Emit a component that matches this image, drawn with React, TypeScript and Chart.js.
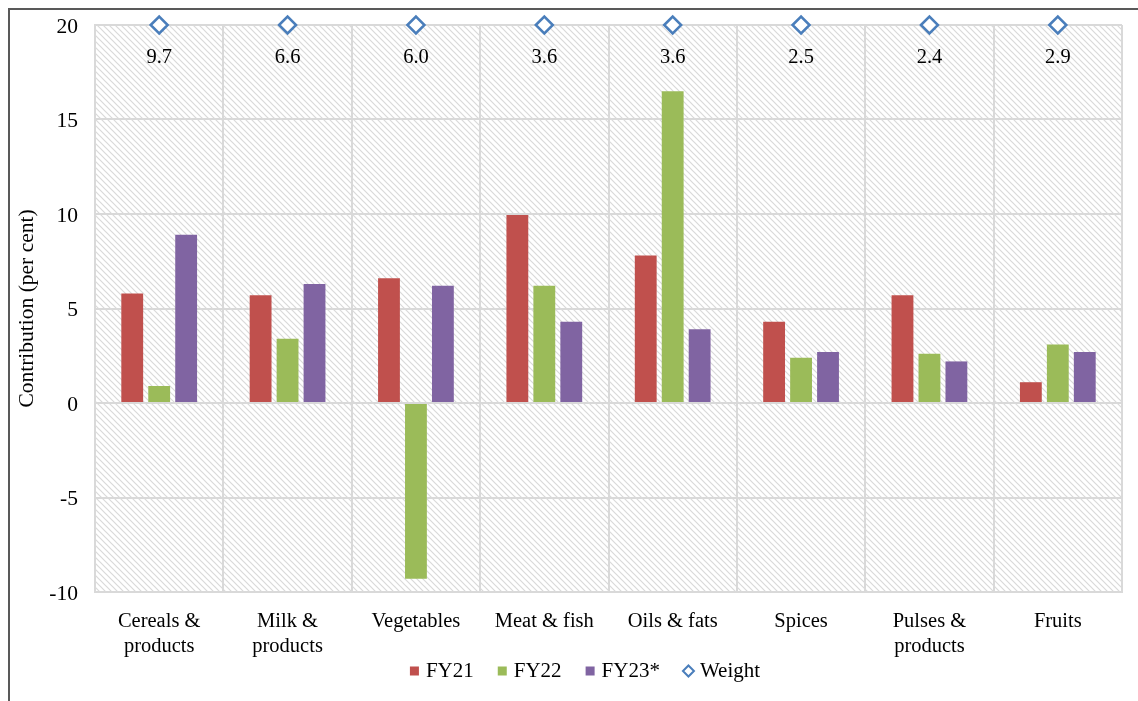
import React, { useEffect, useRef } from "react";
import { Chart, registerables } from "chart.js";

Chart.register(...registerables);

const categories: (string | string[])[] = [
  ["Cereals &", "products"],
  ["Milk &", "products"],
  "Vegetables",
  "Meat & fish",
  "Oils & fats",
  "Spices",
  ["Pulses &", "products"],
  "Fruits",
];
const fy21 = [5.8, 5.7, 6.6, 9.95, 7.8, 4.3, 5.7, 1.1];
const fy22 = [0.9, 3.4, -9.3, 6.2, 16.5, 2.4, 2.6, 3.1];
const fy23 = [8.9, 6.3, 6.2, 4.3, 3.9, 2.7, 2.2, 2.7];
const weights = [9.7, 6.6, 6.0, 3.6, 3.6, 2.5, 2.4, 2.9];
const weightMarkerLevel = 20;
const yTicks = { min: -10, max: 20, step: 5 };

const FONT = "'Liberation Serif', 'Times New Roman', serif";
const FS = 20.5;
const WEIGHT_COLOR = "#4a7ebb";

function makePattern(ctx: CanvasRenderingContext2D) {
  const p = document.createElement("canvas");
  const s = 6;
  p.width = s;
  p.height = s;
  const c = p.getContext("2d")!;
  c.fillStyle = "#ffffff";
  c.fillRect(0, 0, s, s);
  c.strokeStyle = "#d9d9d9";
  c.lineWidth = 1.2;
  c.beginPath();
  c.moveTo(-1, -1);
  c.lineTo(s + 1, s + 1);
  c.moveTo(-1, s - 1);
  c.lineTo(1, s + 1);
  c.moveTo(s - 1, -1);
  c.lineTo(s + 1, 1);
  c.stroke();
  return ctx.createPattern(p, "repeat");
}

const hatchPlugin = {
  id: "hatchBg",
  beforeDraw(chart: any) {
    const { ctx, chartArea } = chart;
    const pat = makePattern(ctx);
    ctx.save();
    ctx.fillStyle = pat || "#fff";
    ctx.fillRect(chartArea.left, chartArea.top, chartArea.right - chartArea.left, chartArea.bottom - chartArea.top);
    ctx.restore();
  },
};

const weightLabelPlugin = {
  id: "weightLabels",
  afterDatasetsDraw(chart: any) {
    const idx = chart.data.datasets.findIndex((d: any) => d.label === "Weight");
    if (idx < 0) return;
    const meta = chart.getDatasetMeta(idx);
    const { ctx } = chart;
    ctx.save();
    ctx.font = `${FS}px ${FONT}`;
    ctx.fillStyle = "#000";
    ctx.textAlign = "center";
    ctx.textBaseline = "middle";
    meta.data.forEach((pt: any, i: number) => {
      ctx.fillText(weights[i].toFixed(1), pt.x, pt.y + 33);
    });
    ctx.restore();
  },
};

// Legend drawn in the reserved space below the x axis
const legendPlugin = {
  id: "customLegend",
  afterDraw(chart: any) {
    const { ctx } = chart;
    const datasets = chart.data.datasets;
    const marker = 9;
    const gapText = 7;
    const gapItem = 24;
    const y = 661;
    ctx.save();
    ctx.font = `${FS + 0.5}px ${FONT}`;
    const widths = datasets.map((d: any) => marker + gapText + ctx.measureText(d.label).width);
    const total = widths.reduce((a: number, b: number) => a + b, 0) + gapItem * (datasets.length - 1);
    let x = 575 - total / 2;
    datasets.forEach((d: any, i: number) => {
      if (d.label === "Weight") {
        const cx = x + marker / 2;
        const r = 5.5;
        ctx.beginPath();
        ctx.moveTo(cx, y - r);
        ctx.lineTo(cx + r, y);
        ctx.lineTo(cx, y + r);
        ctx.lineTo(cx - r, y);
        ctx.closePath();
        ctx.fillStyle = "#fff";
        ctx.fill();
        ctx.lineWidth = 2;
        ctx.strokeStyle = WEIGHT_COLOR;
        ctx.stroke();
      } else {
        ctx.fillStyle = d.backgroundColor;
        ctx.fillRect(x, y - marker / 2, marker, marker);
      }
      ctx.fillStyle = "#000";
      ctx.textAlign = "left";
      ctx.textBaseline = "middle";
      ctx.fillText(d.label, x + marker + gapText, y);
      x += widths[i] + gapItem;
    });
    ctx.restore();
  },
};

export default function App() {
  const ref = useRef<HTMLCanvasElement>(null);
  useEffect(() => {
    if (!ref.current) return;
    const barCommon = { categoryPercentage: 0.63, barPercentage: 0.81, borderWidth: 0 };
    const chart = new Chart(ref.current, {
      type: "bar",
      data: {
        labels: categories,
        datasets: [
          { label: "FY21", data: fy21, backgroundColor: "#c0504d", ...barCommon },
          { label: "FY22", data: fy22, backgroundColor: "#9bbb59", ...barCommon },
          { label: "FY23*", data: fy23, backgroundColor: "#8064a2", ...barCommon },
          {
            type: "line" as any,
            label: "Weight",
            data: weights.map(() => weightMarkerLevel),
            showLine: false,
            pointStyle: "rectRot",
            pointRadius: 8.5,
            pointBorderWidth: 2.5,
            pointBorderColor: WEIGHT_COLOR,
            pointBackgroundColor: "#ffffff",
            borderColor: WEIGHT_COLOR,
            backgroundColor: "#ffffff",
            clip: false as any,
          } as any,
        ],
      },
      options: {
        responsive: false,
        animation: false,
        layout: { padding: { top: 15, right: 16, bottom: 41, left: 0 } },
        plugins: {
          tooltip: { enabled: false },
          legend: { display: false },
        },
        scales: {
          x: {
            afterFit: (s: any) => {
              s.height = 68;
            },
            grid: { color: "#d9d9d9", lineWidth: 2, drawTicks: false, offset: true },
            border: { color: "#d9d9d9", width: 2 },
            ticks: {
              font: { family: FONT, size: FS, lineHeight: 1.22 },
              color: "#000",
              padding: 17,
              maxRotation: 0,
              autoSkip: false,
            },
          },
          y: {
            min: yTicks.min,
            max: yTicks.max,
            afterFit: (s: any) => {
              s.width = 85;
              s.paddingTop = 10;
              s.paddingBottom = 10;
            },
            grid: { color: "#d9d9d9", lineWidth: 2, drawTicks: false },
            border: { color: "#d9d9d9", width: 2 },
            ticks: {
              stepSize: yTicks.step,
              font: { family: FONT, size: 21.5 },
              color: "#000",
              padding: 17,
              labelOffset: 2,
            },
            title: {
              display: true,
              text: "Contribution (per cent)",
              font: { family: FONT, size: 21.5 },
              color: "#000",
              padding: { top: 4, bottom: 0 },
            },
          },
        },
      },
      plugins: [hatchPlugin, weightLabelPlugin, legendPlugin],
    });
    return () => chart.destroy();
  }, []);
  return (
    <div
      style={{
        position: "fixed",
        left: 8,
        top: 8,
        width: 1130,
        height: 693,
        borderTop: "2px solid #595959",
        borderLeft: "2px solid #595959",
        background: "#fff",
      }}
    >
      <canvas ref={ref} width={1128} height={691} style={{ display: "block", width: 1128, height: 691 }} />
    </div>
  );
}
